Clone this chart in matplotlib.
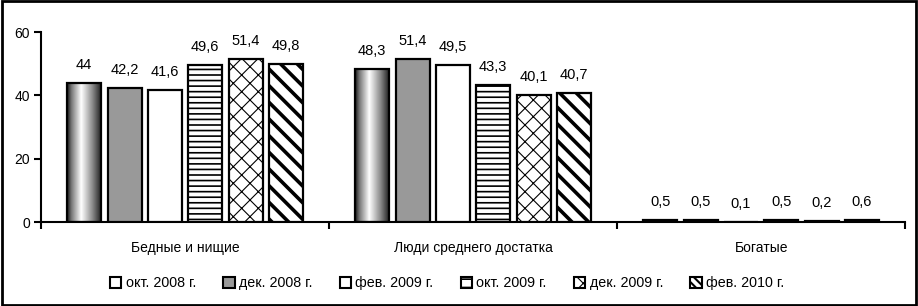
import numpy as np
import matplotlib
matplotlib.use("Agg")
from matplotlib import pyplot as plt
from matplotlib.patches import Rectangle, Patch

plt.rcParams['font.family'] = ['Liberation Sans', 'DejaVu Sans']

categories = ["Бедные и нищие", "Люди среднего достатка", "Богатые"]
series = ["окт. 2008 г.", "дек. 2008 г.", "фев. 2009 г.",
          "окт. 2009 г.", "дек. 2009 г.", "фев. 2010 г."]
values = [
    [44, 48.3, 0.5],
    [42.2, 51.4, 0.5],
    [41.6, 49.5, 0.1],
    [49.6, 43.3, 0.5],
    [51.4, 40.1, 0.2],
    [49.8, 40.7, 0.6],
]

faces = ["none", "#999999", "white", "white", "white", "white"]
hatches = [None, None, None, "---", "xx", "\\\\"]
hatch_lw = [1.0, 1.0, 1.0, 1.2, 0.8, 2.6]
# в легенде маркеры мельче
leg_hatches = [None, None, None, "--", "xx", "\\\\\\\\"]
leg_hatch_lw = [1.0, 1.0, 1.0, 1.2, 0.8, 1.5]

fig = plt.figure(figsize=(9.18, 3.06), dpi=100)
ax = fig.add_axes([0.0447, 0.2745, 0.9413, 0.6205])

step = 0.14
width = 0.118
x = np.arange(len(categories))

# поперечный градиент для первой серии (тёмный край - белый центр - тёмный край)
prof = np.interp(np.linspace(0, 1, 64), [0, 0.12, 0.42, 0.75, 1],
                 [0.1, 0.45, 1.0, 0.55, 0.15])

for i, vals in enumerate(values):
    pos = x + (i - 2.5) * step
    bars = ax.bar(pos, vals, width, color=faces[i], edgecolor="black",
                  linewidth=1.6, hatch=hatches[i], zorder=3)
    for b, v in zip(bars, vals):
        if hasattr(b, "set_hatch_linewidth"):
            b.set_hatch_linewidth(hatch_lw[i])
        if i == 0:
            im = ax.imshow(prof[None, :], cmap="gray", vmin=0, vmax=1,
                           extent=(b.get_x(), b.get_x() + b.get_width(), 0, v),
                           aspect="auto", zorder=2, interpolation="bilinear")
            im.set_clip_path(b)
        txt = ("%g" % v).replace(".", ",")
        ax.annotate(txt, (b.get_x() + b.get_width() / 2, v), xytext=(0, 8),
                    textcoords="offset points", ha="center", va="bottom",
                    fontsize=10.5)

ax.set_xlim(-0.5, 2.5)
ax.set_ylim(0, 60)
ax.set_yticks([0, 20, 40, 60])
ax.set_yticklabels(["0", "20", "40", "60"])
ax.set_xticks([-0.5, 0.5, 1.5, 2.5])
ax.set_xticklabels([])
ax.set_xticks(x, minor=True)
ax.set_xticklabels(categories, minor=True)
ax.tick_params(axis="x", which="major", direction="out", length=5, width=1.5)
ax.tick_params(axis="x", which="minor", length=0, pad=14, labelsize=10)
ax.tick_params(axis="y", direction="out", length=5, width=1.5, labelsize=10, pad=3)
for s in ["top", "right"]:
    ax.spines[s].set_visible(False)
for s in ["left", "bottom"]:
    ax.spines[s].set_linewidth(1.5)

handles = []
for i in range(len(series)):
    h = Patch(facecolor=faces[i] if faces[i] != "none" else "white",
              edgecolor="black", linewidth=1.5, hatch=leg_hatches[i])
    handles.append(h)
leg = fig.legend(handles, series, loc="center", bbox_to_anchor=(0.487, 0.075), ncol=6,
                 frameon=False, fontsize=10.3, handlelength=0.8, handleheight=0.8,
                 handletextpad=0.3, columnspacing=1.9)
for i, p in enumerate(leg.get_patches()):
    if hasattr(p, "set_hatch_linewidth"):
        p.set_hatch_linewidth(leg_hatch_lw[i])

fig.patches.append(Rectangle((0.002, 0.003), 0.996, 0.994, transform=fig.transFigure,
                             fill=False, edgecolor="black", linewidth=2))

fig.savefig("out.png", dpi=100)
